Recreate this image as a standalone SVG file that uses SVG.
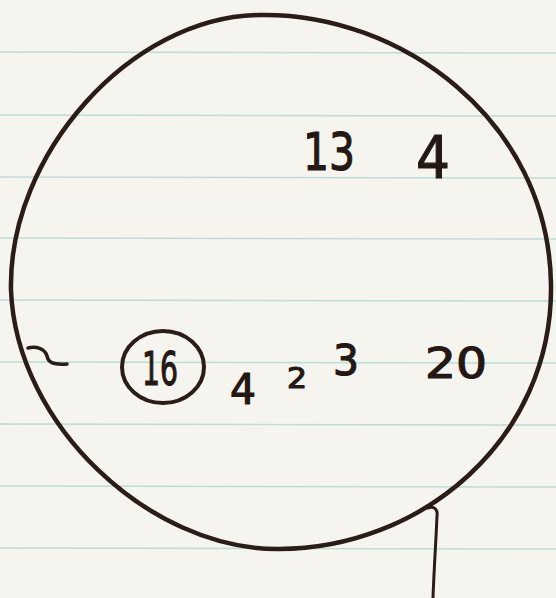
<svg xmlns="http://www.w3.org/2000/svg" width="556" height="598" viewBox="0 0 556 598">
  <style>
    .ink { fill: none; stroke: #2a1c17; stroke-linecap: round; stroke-linejoin: round; }
    .rule { stroke: #bcdcd6; stroke-width: 1.5; }
    .num { font-family: "DejaVu Sans", "Liberation Sans", sans-serif; fill: #241814; stroke: #241814; stroke-width: 1.2; }
  </style>
  <rect width="556" height="598" fill="#f6f4ee"/>
  <g id="paper-lines">
    <line class="rule" x1="0" y1="52" x2="556" y2="53"/>
    <line class="rule" x1="0" y1="115" x2="556" y2="116"/>
    <line class="rule" x1="0" y1="177" x2="556" y2="178"/>
    <line class="rule" x1="0" y1="238" x2="556" y2="239"/>
    <line class="rule" x1="0" y1="300" x2="556" y2="301"/>
    <line class="rule" x1="0" y1="362" x2="556" y2="363"/>
    <line class="rule" x1="0" y1="424" x2="556" y2="425"/>
    <line class="rule" x1="0" y1="486" x2="556" y2="487"/>
    <line class="rule" x1="0" y1="548" x2="556" y2="549"/>
  </g>
  <g id="big-circle">
    <path class="ink" stroke-width="4.5" d="M259,15 C400,12 549,120 551,285 C553,440 420,550 277,549 C150,549 16,425 11,290 C8,155 130,17 259,15 Z"/>
  </g>
  <g id="marks">
    <path class="ink" stroke-width="3.5" d="M28,348 C37,346 45,349 47,356 C48,362 52,365 67,364"/>
    <path class="ink" stroke-width="3" d="M428,508 C434,506 438,509 437,516 C436,540 434,570 433,598"/>
  </g>
  <g id="circled-16">
    <ellipse class="ink" stroke-width="4" cx="163" cy="367" rx="41" ry="36"/>
    <text class="num" x="160" y="385" font-size="46" text-anchor="middle" textLength="36" lengthAdjust="spacingAndGlyphs">16</text>
  </g>
  <g id="labels">
    <text class="num" x="329" y="170" font-size="52" text-anchor="middle" textLength="52" lengthAdjust="spacingAndGlyphs">13</text>
    <text class="num" x="433" y="178" font-size="58" text-anchor="middle" textLength="34" lengthAdjust="spacingAndGlyphs">4</text>
    <text class="num" x="243" y="404" font-size="42" text-anchor="middle" textLength="26" lengthAdjust="spacingAndGlyphs">4</text>
    <text class="num" x="297" y="388" font-size="28" text-anchor="middle" textLength="20" lengthAdjust="spacingAndGlyphs">2</text>
    <text class="num" x="346" y="375" font-size="42" text-anchor="middle" textLength="26" lengthAdjust="spacingAndGlyphs">3</text>
    <text class="num" x="456" y="378" font-size="42" text-anchor="middle" textLength="62" lengthAdjust="spacingAndGlyphs">20</text>
  </g>
</svg>
